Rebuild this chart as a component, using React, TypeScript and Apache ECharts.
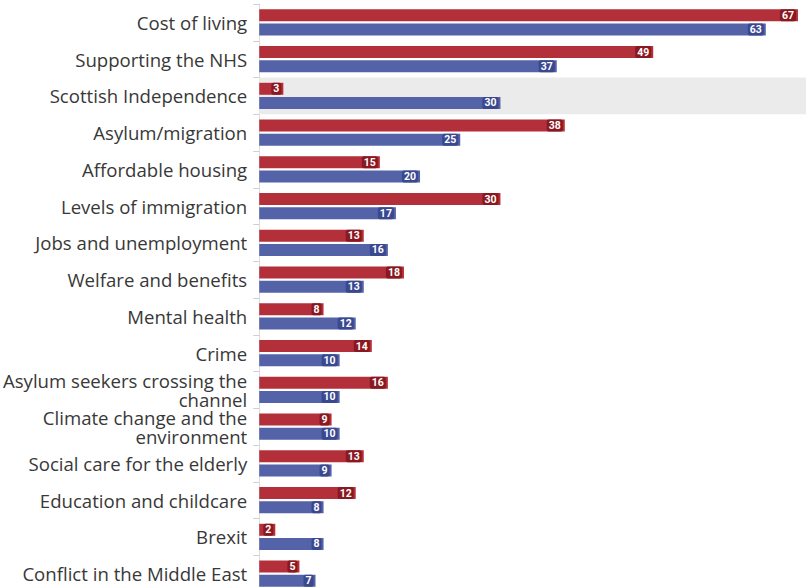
import React, { useEffect, useRef } from "react";
import * as echarts from "echarts";

const categories = [
  "Cost of living",
  "Supporting the NHS",
  "Scottish Independence",
  "Asylum/migration",
  "Affordable housing",
  "Levels of immigration",
  "Jobs and unemployment",
  "Welfare and benefits",
  "Mental health",
  "Crime",
  "Asylum seekers crossing the\nchannel",
  "Climate change and the\nenvironment",
  "Social care for the elderly",
  "Education and childcare",
  "Brexit",
  "Conflict in the Middle East",
];

const redValues = [67, 49, 3, 38, 15, 30, 13, 18, 8, 14, 16, 9, 13, 12, 2, 5];
const blueValues = [63, 37, 30, 25, 20, 17, 16, 13, 12, 10, 10, 10, 9, 8, 8, 7];
const highlighted = ["Scottish Independence"];

const X_MAX = 68;

export default function App() {
  const ref = useRef<HTMLDivElement>(null);
  useEffect(() => {
    document.body.style.margin = "0";
    const chart = echarts.init(ref.current!, null, { renderer: "svg" });
    const labelFor = (bg: string) => ({
      show: true,
      position: "insideRight",
      distance: 2,
      color: "#fff",
      fontWeight: "bold",
      fontSize: 10.5,
      fontFamily: "Roboto",
      backgroundColor: bg,
      padding: [1, 2, 0, 2],
      borderRadius: 2,
    });
    chart.setOption({
      animation: false,
      grid: { left: 257, right: 0, top: 4, bottom: 0, containLabel: false },
      xAxis: { type: "value", min: 0, max: X_MAX, show: false },
      yAxis: [
        {
          type: "category",
          data: categories,
          inverse: true,
          axisLine: { show: true, lineStyle: { color: "#dcdcdc", width: 1 } },
          axisTick: { show: true, length: 6, lineStyle: { color: "#d0d0d0" } },
          axisLabel: {
            color: "#383838",
            fontSize: 18.6,
            fontFamily: "Open Sans",
            margin: 12,
            lineHeight: 19,
          },
        },
        {
          type: "category",
          data: categories,
          inverse: true,
          show: false,
        },
      ],
      series: [
        {
          type: "bar",
          yAxisIndex: 1,
          data: categories.map((c) => (highlighted.includes(c) ? X_MAX : null)),
          barWidth: "100%",
          itemStyle: { color: "#ebebeb" },
          silent: true,
          z: 0,
        },
        {
          type: "bar",
          name: "Red",
          data: redValues,
          barWidth: 12,
          barGap: "18%",
          itemStyle: { color: "#b3303a" },
          label: labelFor("#8a1820"),
          z: 2,
        },
        {
          type: "bar",
          name: "Blue",
          data: blueValues,
          barWidth: 12,
          barGap: "18%",
          itemStyle: { color: "#5462a8" },
          label: labelFor("#3a4890"),
          z: 2,
        },
      ],
    });
    return () => chart.dispose();
  }, []);
  return <div ref={ref} style={{ width: 806, height: 592 }} />;
}
